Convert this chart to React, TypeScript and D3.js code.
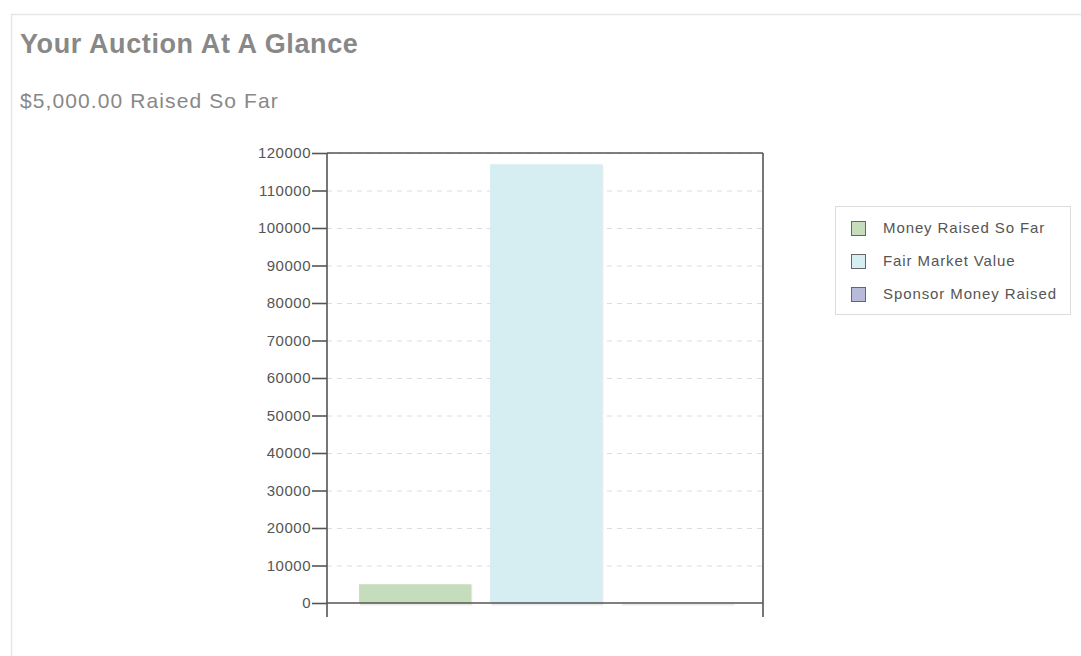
import React, { useRef, useEffect } from 'react';
import * as d3 from 'd3';

// bar data
const categories = ['Money Raised So Far', 'Fair Market Value', 'Sponsor Money Raised'];
const values = [5000, 117000, 0];
const barColors = ['#c5ddbd', '#d6edf2', '#b7bad9'];
const yTickValues = [0, 10000, 20000, 30000, 40000, 50000, 60000, 70000, 80000, 90000, 100000, 110000, 120000];

const title = 'Your Auction At A Glance';
const subtitle = '$5,000.00 Raised So Far';

export default function App() {
  const svgRef = useRef<SVGSVGElement>(null);

  useEffect(() => {
    const width = 1081;
    const height = 656;
    const plot = { left: 327, right: 763, top: 153, bottom: 603 };
    const font = '"Liberation Sans", Arial, Helvetica, sans-serif';
    const axisColor = '#555';

    const svg = d3.select(svgRef.current);
    svg.selectAll('*').remove();

    svg.append('rect').attr('width', width).attr('height', height).attr('fill', '#fff');

    // card outline
    svg.append('rect')
      .attr('x', 11.5).attr('y', 14.5)
      .attr('width', width + 20).attr('height', height + 20)
      .attr('fill', 'none').attr('stroke', '#e6e6e6').attr('stroke-width', 1.5);

    svg.append('text')
      .attr('x', 20).attr('y', 53)
      .attr('fill', '#888').style('font-family', font)
      .style('font-size', '27px').style('font-weight', 'bold')
      .style('letter-spacing', '0.6px')
      .text(title);

    svg.append('text')
      .attr('x', 20).attr('y', 108)
      .attr('fill', '#888').style('font-family', font)
      .style('font-size', '21px')
      .style('letter-spacing', '1.1px')
      .text(subtitle);

    const x = d3.scaleBand<string>()
      .domain(categories)
      .range([plot.left, plot.right])
      .paddingInner(0.143)
      .paddingOuter(0.235)
      .align(0.52);

    const y = d3.scaleLinear()
      .domain([0, 120000])
      .range([plot.bottom, plot.top]);

    // dashed grid
    svg.append('g')
      .selectAll('line')
      .data(yTickValues.filter(d => d > 0))
      .enter()
      .append('line')
      .attr('x1', plot.left).attr('x2', plot.right)
      .attr('y1', d => y(d) + 0.5).attr('y2', d => y(d) + 0.5)
      .attr('stroke', '#d8dde2')
      .attr('stroke-dasharray', '5,5');

    // bars with a faint shadow
    const bars = svg.append('g');
    bars.selectAll('.shadow')
      .data(values)
      .enter()
      .append('rect')
      .attr('class', 'shadow')
      .attr('x', (d, i) => x(categories[i])! + 1)
      .attr('y', d => y(d) + 1)
      .attr('width', x.bandwidth())
      .attr('height', d => Math.max(plot.bottom - y(d), 0) + 1.5)
      .attr('fill', 'rgba(0,0,0,0.08)');

    bars.selectAll('.bar')
      .data(values)
      .enter()
      .append('rect')
      .attr('class', 'bar')
      .attr('x', (d, i) => x(categories[i])!)
      .attr('y', d => y(d))
      .attr('width', x.bandwidth())
      .attr('height', d => plot.bottom - y(d))
      .attr('fill', (d, i) => barColors[i]);

    // frame
    const frame = svg.append('g').attr('stroke', axisColor).attr('stroke-width', 1.6);
    frame.append('line').attr('x1', plot.left).attr('x2', plot.right).attr('y1', plot.top).attr('y2', plot.top);
    frame.append('line').attr('x1', plot.left).attr('x2', plot.right).attr('y1', plot.bottom).attr('y2', plot.bottom);
    frame.append('line').attr('x1', plot.right).attr('x2', plot.right).attr('y1', plot.top).attr('y2', plot.bottom + 14);

    // left axis
    const yAxis = svg.append('g')
      .attr('transform', `translate(${plot.left},0)`)
      .call(
        d3.axisLeft(y)
          .tickValues(yTickValues)
          .tickFormat(d3.format('d'))
          .tickSize(15)
          .tickPadding(1)
          .tickSizeOuter(0)
      );
    yAxis.select('.domain').remove();
    yAxis.append('line').attr('x1', 0).attr('x2', 0).attr('y1', plot.top).attr('y2', plot.bottom + 14)
      .attr('stroke', axisColor).attr('stroke-width', 1.6);
    yAxis.selectAll('.tick line').attr('stroke', axisColor).attr('stroke-width', 1.6);
    yAxis.selectAll('.tick text')
      .attr('fill', '#555')
      .style('font-family', font)
      .style('font-size', '15px')
      .style('letter-spacing', '0.5px');

    // legend
    const legend = svg.append('g');
    legend.append('rect')
      .attr('x', 835.5).attr('y', 206.5).attr('width', 235).attr('height', 108)
      .attr('fill', '#fff').attr('stroke', '#dcdcdc');
    const rows = legend.selectAll('.row')
      .data(categories)
      .enter()
      .append('g')
      .attr('class', 'row')
      .attr('transform', (d, i) => `translate(851,${228 + i * 33})`);
    rows.append('rect')
      .attr('x', 0.5).attr('y', -6.5).attr('width', 14).attr('height', 14)
      .attr('fill', (d, i) => barColors[i])
      .attr('stroke', '#666');
    rows.append('text')
      .attr('x', 32).attr('y', 5)
      .attr('fill', '#555')
      .style('font-family', font)
      .style('font-size', '15px')
      .style('letter-spacing', '0.9px')
      .text(d => d);
  }, []);

  return (
    <div style={{ position: 'absolute', left: 0, top: 0, width: 1081, height: 656 }}>
      <svg ref={svgRef} width={1081} height={656} style={{ display: 'block' }}></svg>
    </div>
  );
}
